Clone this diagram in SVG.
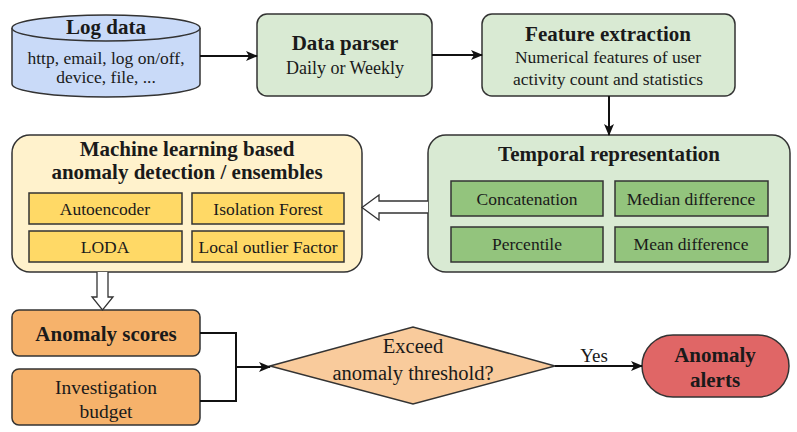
<svg xmlns="http://www.w3.org/2000/svg" width="797" height="432" viewBox="0 0 797 432">
<style>
text{font-family:"Liberation Serif","Times New Roman",serif;fill:#1a1a1a;text-anchor:middle}
.t{font-weight:bold;font-size:21px}
.s{font-size:17.5px}
.n{stroke:#333;stroke-width:1.5}
.c{fill:none;stroke:#111;stroke-width:2}
.h{fill:#fff;stroke:#333;stroke-width:1.3}
</style>
<defs>
<marker id="ah" viewBox="0 0 12 10" refX="11" refY="5" markerWidth="12" markerHeight="10" markerUnits="userSpaceOnUse" orient="auto">
<path d="M0,0 L12,5 L0,10 L3,5 Z" fill="#111"/>
</marker>
</defs>
<rect width="797" height="432" fill="#fff"/>

<g id="log-data">
<path class="n" d="M12,28 L12,84 A94,13 0 0 0 200,84 L200,28" fill="#c9daf8"/>
<ellipse class="n" cx="106" cy="28" rx="94" ry="13" fill="#c9daf8"/>
<text class="t" x="106" y="34">Log data</text>
<text class="s" x="106" y="64">http, email, log on/off,</text>
<text class="s" x="106" y="83">device, file, ...</text>
</g>

<g id="data-parser">
<rect class="n" x="257" y="14" width="175" height="82" rx="10" fill="#d9ead3"/>
<text class="t" x="345" y="50">Data parser</text>
<text class="s" x="345" y="74" style="font-size:18px">Daily or Weekly</text>
</g>

<g id="feature-extraction">
<rect class="n" x="482" y="14" width="253" height="82" rx="10" fill="#d9ead3"/>
<text class="t" x="608" y="41">Feature extraction</text>
<text class="s" x="608" y="63">Numerical features of user</text>
<text class="s" x="608" y="85">activity count and statistics</text>
</g>

<g id="temporal-representation">
<rect class="n" x="428" y="135" width="362" height="137" rx="18" fill="#d9ead3"/>
<text class="t" x="609" y="161">Temporal representation</text>
<rect class="n" x="451" y="181" width="152" height="35" fill="#93c47d"/>
<text class="s" x="527" y="205">Concatenation</text>
<rect class="n" x="615" y="181" width="153" height="35" fill="#93c47d"/>
<text class="s" x="691" y="205">Median difference</text>
<rect class="n" x="451" y="227" width="152" height="35" fill="#93c47d"/>
<text class="s" x="527" y="250">Percentile</text>
<rect class="n" x="615" y="227" width="153" height="35" fill="#93c47d"/>
<text class="s" x="691" y="250">Mean difference</text>
</g>

<g id="ml-detection">
<rect class="n" x="12" y="135" width="350" height="137" rx="18" fill="#fff2cc"/>
<text class="t" x="187" y="156">Machine learning based</text>
<text class="t" x="187" y="179">anomaly detection / ensembles</text>
<rect class="n" x="29" y="193" width="153" height="31" fill="#ffd966"/>
<text class="s" x="105" y="215">Autoencoder</text>
<rect class="n" x="192" y="193" width="152" height="31" fill="#ffd966"/>
<text class="s" x="268" y="215">Isolation Forest</text>
<rect class="n" x="29" y="231" width="153" height="31" fill="#ffd966"/>
<text class="s" x="105" y="253">LODA</text>
<rect class="n" x="192" y="231" width="152" height="31" fill="#ffd966"/>
<text class="s" x="268" y="253">Local outlier Factor</text>
</g>

<g id="anomaly-scores">
<rect class="n" x="12" y="310" width="188" height="46" rx="7" fill="#f6b26b"/>
<text class="t" x="106" y="341">Anomaly scores</text>
</g>

<g id="investigation-budget">
<rect class="n" x="12" y="369" width="188" height="56" rx="7" fill="#f6b26b"/>
<text class="s" x="106" y="394" style="font-size:19.5px">Investigation</text>
<text class="s" x="106" y="418" style="font-size:19.5px">budget</text>
</g>

<g id="threshold-decision">
<polygon class="n" points="270,366 413,327 555,366 413,404" fill="#f9cb9c"/>
<text x="413" y="353" style="font-size:20.5px">Exceed</text>
<text x="413" y="380" style="font-size:20.5px">anomaly threshold?</text>
</g>

<g id="anomaly-alerts">
<rect class="n" x="642" y="335" width="147" height="62" rx="31" fill="#e06666"/>
<text class="t" x="715" y="362">Anomaly</text>
<text class="t" x="715" y="387">alerts</text>
</g>

<g id="connectors">
<line class="c" x1="200" y1="56" x2="257" y2="56" marker-end="url(#ah)"/>
<line class="c" x1="432" y1="55" x2="482" y2="55" marker-end="url(#ah)"/>
<line class="c" x1="609" y1="96" x2="609" y2="135" marker-end="url(#ah)"/>
<path class="h" d="M428,201 L379,201 L379,195 L362,207.5 L379,220 L379,213 L428,213"/>
<path class="h" d="M97,272 L97,297 L92,297 L102.5,310 L113,297 L108,297 L108,272"/>
<path class="c" d="M200,333 L236,333 L236,401 L200,401"/>
<line class="c" x1="236" y1="367" x2="270" y2="367" marker-end="url(#ah)"/>
<line class="c" x1="555" y1="366" x2="642" y2="366" marker-end="url(#ah)"/>
<text x="594" y="362" style="font-size:19px">Yes</text>
</g>
</svg>
